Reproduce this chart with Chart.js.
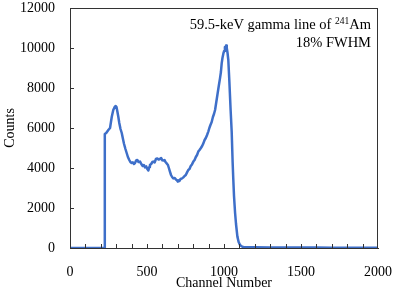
<!DOCTYPE html>
<html>
<head>
<meta charset="utf-8">
<script src="https://cdn.jsdelivr.net/npm/chart.js@4"></script>
<style>
  html, body { margin: 0; padding: 0; background: #fff; }
  canvas { display: block; }
</style>
</head>
<body>
<canvas id="myChart" width="397" height="297"></canvas>
<script>
// spectrum
let channels = [0, 60, 100, 222, 226, 235, 249, 260, 271, 281, 290, 297, 302, 307, 314, 320, 328, 336,
    344, 351, 360, 368, 376, 385, 392, 400, 408, 415, 422, 430, 437, 445, 455, 463, 472, 480, 487, 495,
    502, 509, 515, 519, 527, 535, 541, 550, 558, 567, 575, 584, 592, 600, 606, 614, 620, 628, 636, 642,
    649, 656, 663, 671, 680, 688, 695, 700, 703, 710, 718, 728, 736, 744, 752, 760, 768, 776, 784, 792,
    801, 809, 817, 825, 833, 841, 850, 858, 866, 874, 882, 890, 898, 905, 912, 920, 928, 935, 942, 950,
    958, 966, 974, 980, 985, 990, 996, 1001, 1006, 1010, 1013, 1018, 1023, 1028, 1035, 1043, 1050, 1056, 1060, 1065, 1072,
    1078, 1087, 1095, 1104, 1115, 1125, 1200, 1300, 1400, 1500, 1600, 1700, 1800, 1900, 2000];
let counts = [0, 0, 0, 0, 5700, 5750, 5900, 6000, 6550, 6900, 7050, 7100, 7050, 6850, 6550, 6250, 5950, 5750,
    5450, 5200, 4950, 4750, 4550, 4400, 4300, 4250, 4280, 4200, 4250, 4380, 4400, 4300, 4320, 4200, 4100, 4150, 4030, 4080,
    3950, 3880, 4050, 4150, 4200, 4300, 4320, 4280, 4450, 4480, 4420, 4450, 4500, 4380, 4370, 4400, 4300, 4230, 4150, 4000,
    3820, 3650, 3550, 3480, 3500, 3420, 3380, 3320, 3380, 3350, 3450, 3480, 3530, 3600, 3650, 3780, 3900, 3950, 4100, 4180,
    4320, 4400, 4550, 4650, 4820, 4900, 5000, 5100, 5230, 5400, 5500, 5650, 5820, 6000, 6150, 6300, 6550, 6700, 6900, 7300,
    7700, 8100, 8480, 8800, 9230, 9500, 9730, 9850, 10050, 9950, 10120, 10000, 9750, 9400, 8300, 6900, 5800, 4300, 3500, 2600, 1750,
    1200, 570, 300, 150, 80, 50, 40, 30, 25, 20, 20, 15, 15, 10, 10];

let xTicks = [0, 500, 1000, 1500, 2000];
let yTicks = [0, 2000, 4000, 6000, 8000, 10000, 12000];
let xMinor = [100, 200, 300, 400, 500, 600, 700, 800, 900, 1000, 1100, 1200, 1300, 1400, 1500, 1600, 1700, 1800, 1900];
let noteLine1 = '59.5-keV gamma line of ';
let noteIso = '241';
let noteEl = 'Am';
let noteLine2 = '18% FWHM';

const serif = "'Liberation Serif', 'Times New Roman', serif";
const frameColor = '#333';

let framePlugin = {
    id: 'frame',
    afterDatasetsDraw(chart) {
        let c = chart.ctx;
        let a = chart.chartArea;
        let xs = chart.scales.x, ys = chart.scales.y;
        c.save();
        c.strokeStyle = frameColor;
        c.lineWidth = 1;
        c.strokeRect(a.left + 0.5, a.top + 0.5, a.right - a.left - 1, a.bottom - a.top);
        c.beginPath();
        xMinor.forEach(v => {
            let px = Math.round(xs.getPixelForValue(v)) + 0.5;
            c.moveTo(px, a.bottom);
            c.lineTo(px, a.bottom - 4);
        });
        yTicks.forEach(v => {
            let py = Math.round(ys.getPixelForValue(v)) + 0.5;
            c.moveTo(a.left, py);
            c.lineTo(a.left + 4, py);
        });
        c.stroke();

        // annotation, right aligned
        c.fillStyle = '#000';
        c.textBaseline = 'alphabetic';
        let big = '14.5px ' + serif, small = '9.5px ' + serif;
        let right = 371;
        c.font = big;
        let wEl = c.measureText(noteEl).width;
        let w1 = c.measureText(noteLine1).width;
        c.font = small;
        let wIso = c.measureText(noteIso).width;
        let x0 = right - wEl - wIso - w1;
        let base1 = 29;
        c.font = big;
        c.textAlign = 'left';
        c.fillText(noteLine1, x0, base1);
        c.fillText(noteEl, x0 + w1 + wIso, base1);
        c.font = small;
        c.fillText(noteIso, x0 + w1, base1 - 5);
        c.font = big;
        c.textAlign = 'right';
        c.fillText(noteLine2, right, base1 + 18);
        c.restore();
    }
};

let ctx = document.getElementById('myChart').getContext('2d');
let myChart = new Chart(ctx, {
    type: 'line',
    data: {
        datasets: [{
            data: channels.map((ch, i) => ({x: ch, y: counts[i]})),
            borderColor: '#3E6FC9',
            borderWidth: 2.5,
            borderJoinStyle: 'round',
            pointRadius: 0,
            fill: false,
            tension: 0
        }]
    },
    options: {
        responsive: false,
        animation: false,
        devicePixelRatio: 1,
        layout: { padding: { top: 8, right: 19, left: 0, bottom: 0 } },
        plugins: { legend: { display: false }, tooltip: { enabled: false } },
        scales: {
            x: {
                type: 'linear',
                min: 0, max: 2000,
                afterBuildTicks: s => { s.ticks = xTicks.map(v => ({value: v})); },
                afterFit: s => { s.height = 49; s.paddingLeft = 0; s.paddingRight = 0; },
                grid: { display: false, drawTicks: false },
                border: { display: true, color: frameColor, width: 1 },
                ticks: { padding: 16, color: '#000', font: { family: serif, size: 14 }, maxRotation: 0,
                    callback: v => String(v) },
                title: { display: true, text: 'Channel Number', color: '#000',
                    font: { family: serif, size: 14 }, padding: { top: 0, bottom: 5 } }
            },
            y: {
                min: 0, max: 12000,
                afterBuildTicks: s => { s.ticks = yTicks.map(v => ({value: v})); },
                afterFit: s => { s.width = 70; s.paddingTop = 0; s.paddingBottom = 0; },
                grid: { display: false, drawTicks: false },
                border: { display: true, color: frameColor, width: 1 },
                ticks: { padding: 15, color: '#000', font: { family: serif, size: 14 },
                    callback: v => String(v) },
                title: { display: true, text: 'Counts', color: '#000',
                    font: { family: serif, size: 14 }, padding: { top: 2, bottom: 0 } }
            }
        }
    },
    plugins: [framePlugin]
});
</script>
</body>
</html>
